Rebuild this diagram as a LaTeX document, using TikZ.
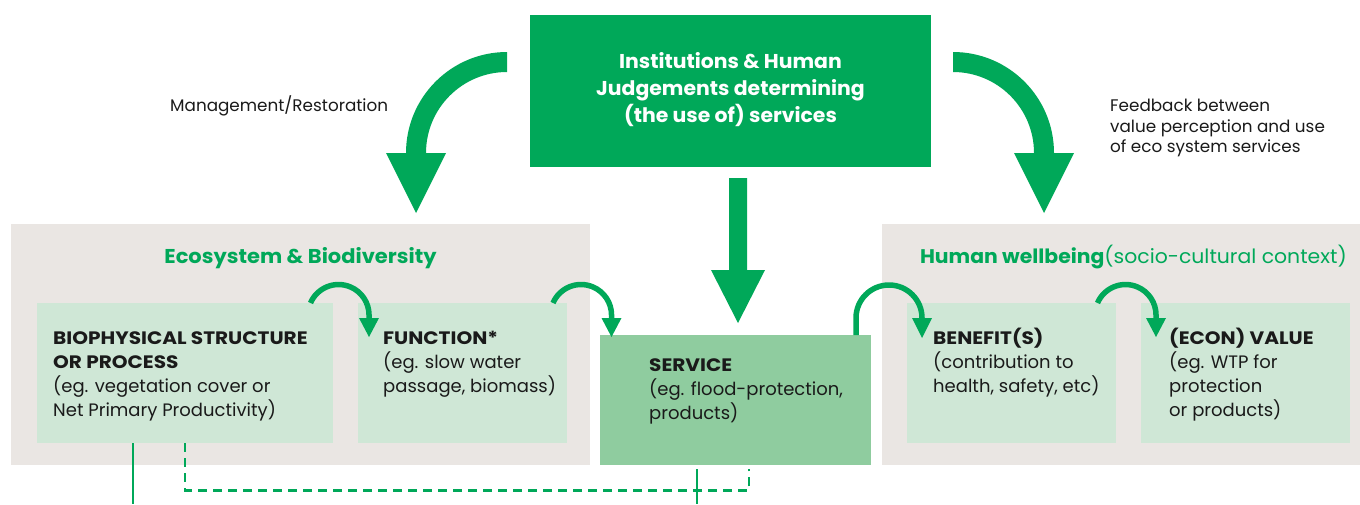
\documentclass[tikz,border=0pt]{standalone}
\usepackage{fontspec}
\setmainfont{Poppins}
\newfontfamily\capsfam{Poppins}[FakeStretch=1.115]
\newfontfamily\headfam{Poppins}[FakeStretch=1.05]
\newfontfamily\hwfam{Poppins}[FakeStretch=1.035]
\newfontfamily\titlefam{Poppins}[FakeStretch=1.02]
\definecolor{eg}{HTML}{00A859}
\definecolor{lightg}{HTML}{CFE7D6}
\definecolor{midg}{HTML}{8FCC9F}
\definecolor{panelg}{HTML}{EAE6E3}
\definecolor{txt}{HTML}{1A1A1A}
\begin{document}
\begin{tikzpicture}[x=1pt,y=-1pt,
  boxst/.style={anchor=north west, inner sep=0pt, draw=none},
  lab/.style={anchor=base west, inner sep=0pt, text=txt, font=\fontsize{18}{24}\selectfont},
  labb/.style={lab, font=\capsfam\fontsize{18}{24}\selectfont\bfseries},
  small/.style={anchor=base west, inner sep=0pt, text=txt, font=\fontsize{16.8}{20}\selectfont},
  ttl/.style={anchor=base, inner sep=0pt, text=white, font=\titlefam\fontsize{20}{27}\selectfont\bfseries},
  smallarc/.style={draw=eg, line width=5.5pt},
  head/.style={fill=eg, draw=none}]
\useasboundingbox (0,0) rectangle (1360,504);
\fill[white] (0,0) rectangle (1360,504);

% panels
\node[boxst, fill=panelg, minimum width=579pt, minimum height=241pt] (eco) at (11,224) {};
\node[boxst, fill=panelg, minimum width=478pt, minimum height=241pt] (hw) at (882,224) {};
\node[boxst, fill=eg, minimum width=401pt, minimum height=152pt] (inst) at (530,15) {};

% boxes
\node[boxst, fill=lightg, minimum width=296pt, minimum height=140pt] (bio) at (37,303) {};
\node[boxst, fill=lightg, minimum width=209pt, minimum height=140pt] (func) at (358,303) {};
\node[boxst, fill=midg, minimum width=271pt, minimum height=130pt] (serv) at (600,335) {};
\node[boxst, fill=lightg, minimum width=209pt, minimum height=140pt] (ben) at (907,303) {};
\node[boxst, fill=lightg, minimum width=209pt, minimum height=140pt] (val) at (1141,303) {};

% title text
\node[ttl] (t1) at (730.5,68) {Institutions \& Human};
\node[ttl] (t2) at (730.5,95) {Judgements determining};
\node[ttl] (t3) at (730.5,122) {(the use of) services};

% panel titles
\node[anchor=base, inner sep=0pt, text=eg, font=\headfam\fontsize{20}{24}\selectfont\bfseries] (ecot) at (300.5,263) {Ecosystem \& Biodiversity};
\node[anchor=base east, inner sep=0pt, text=eg, font=\hwfam\fontsize{19.7}{24}\selectfont] (hwt) at (1347,263) {\textbf{Human wellbeing}(socio-cultural context)};

% side labels
\node[small] (mr) at (170,111) {Management/Restoration};
\node[small] (fb1) at (1110,111) {Feedback between};
\node[small] (fb2) at (1110,132) {value perception and use};
\node[small] (fb3) at (1110,152) {of eco system services};

% box texts
\node[labb] (b1) at (53,344) {BIOPHYSICAL STRUCTURE};
\node[labb] (b2) at (53,368) {OR PROCESS};
\node[lab] (b3) at (53,392) {(eg. vegetation cover or};
\node[lab] (b4) at (53,416) {Net Primary Productivity)};

\node[labb] (f1) at (383,344) {FUNCTION*};
\node[lab] (f2) at (383,368) {(eg. slow water};
\node[lab] (f3) at (383,392) {passage, biomass)};

\node[labb] (s1) at (649,371) {SERVICE};
\node[lab] (s2) at (649,395) {(eg. flood-protection,};
\node[lab] (s3) at (649,419) {products)};

\node[labb] (be1) at (933,344) {BENEFIT(S)};
\node[lab] (be2) at (933,368) {(contribution to};
\node[lab] (be3) at (933,392) {health, safety, etc)};

\node[labb] (v1) at (1169,344) {(ECON) VALUE};
\node[lab] (v2) at (1169,368) {(eg. WTP for};
\node[lab] (v3) at (1169,392) {protection};
\node[lab] (v4) at (1169,416) {or products)};

% big curved arrows
\fill[eg] (507,52) arc[start angle=270, end angle=180, radius=101] -- (386,153) -- (416,213) -- (446,153) -- (426,153)
  arc[start angle=180, end angle=270, radius=81] -- cycle;
\fill[eg] (953,52) arc[start angle=270, end angle=360, radius=101] -- (1074,153) -- (1044,213) -- (1014,153) -- (1034,153)
  arc[start angle=360, end angle=270, radius=81] -- cycle;
% central arrow
\fill[eg] (729,178) -- (747,178) -- (747,270) -- (765,270) -- (738,323) -- (711,270) -- (729,270) -- cycle;

% small arrows
\draw[smallarc] (310.5,303) arc[start angle=203.2, end angle=360, radius=30.5] -- ++(0,4);
\fill[head] (359,318) -- (379,318) -- (369,337) -- cycle;
\draw[smallarc] (553,303) arc[start angle=203.2, end angle=360, radius=30.5] -- ++(0,4);
\fill[head] (601.5,318) -- (621.5,318) -- (611.5,337) -- cycle;
\draw[smallarc] (856,335) -- (856,318) arc[start angle=180, end angle=360, radius=33] -- ++(0,2);
\fill[head] (912,318) -- (932,318) -- (922,338) -- cycle;
\draw[smallarc] (1097.5,303) arc[start angle=203.2, end angle=360, radius=30.5] -- ++(0,4);
\fill[head] (1146,318) -- (1166,318) -- (1156,337) -- cycle;

% bottom lines
\draw[eg, line width=2.5pt] ([xshift=96pt]bio.south west) -- ++(0,61);
\draw[eg, line width=2.5pt, dash pattern=on 9pt off 6pt] ([xshift=148pt]bio.south west) -- ++(0,47) -| ([xshift=149pt,yshift=-4pt]serv.south west);
\draw[eg, line width=2.5pt] ([xshift=97pt,yshift=-4pt]serv.south west) -- ++(0,35);
\end{tikzpicture}
\end{document}
